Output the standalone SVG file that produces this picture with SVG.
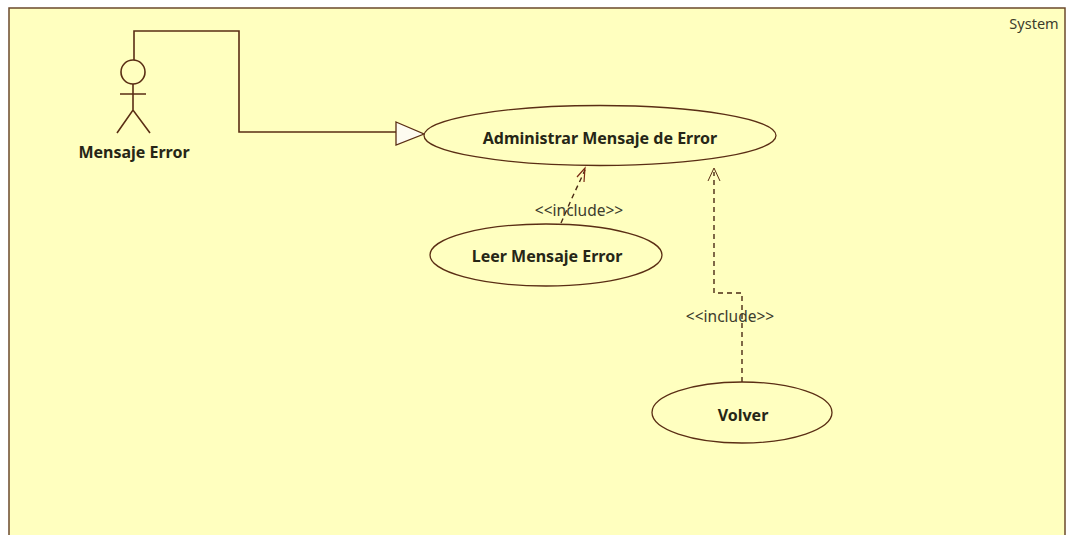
<svg xmlns="http://www.w3.org/2000/svg" width="1066" height="535" viewBox="0 0 1066 535">
<style>
.uc{fill:#ffffc0;stroke:#5a2e14;stroke-width:1.3}
.l{fill:none;stroke:#5a2e14;stroke-width:1.6}
.d{fill:none;stroke:#4a2a14;stroke-width:1.4;stroke-dasharray:5 4}
.b{font-family:"Noto Sans","Liberation Sans",sans-serif;font-weight:700;font-size:16px;fill:#262616;text-anchor:middle}
.t{font-family:"Noto Sans","Liberation Sans",sans-serif;font-size:15.5px;fill:#3c3c2c;text-anchor:middle}
</style>
<rect width="1066" height="535" fill="#ffffff"/>
<rect id="system" x="9" y="8" width="1056" height="540" fill="#ffffbf" stroke="#6b4a2c" stroke-width="1.5"/>
<text x="1034" y="29" class="t" style="font-size:14.5px">System</text>
<g id="connectors">
<path class="l" d="M134 60V31H239V132H396"/>
<path d="M396 122L424 134L396 145Z" fill="#fdfbf0" stroke="#5a2e14" stroke-width="1.3"/>
<path class="d" d="M561 223L572 198L585 170"/>
<path d="M577 177L585 168L584 182" fill="none" stroke="#7a2a14" stroke-width="1.2"/>
<path class="d" d="M742 382V293H714V172"/>
<path d="M708 181L714 168L720 181" fill="none" stroke="#5a2e14" stroke-width="1"/>
<text x="579" y="216" class="t">&lt;&lt;include&gt;&gt;</text>
<text x="730" y="322" class="t">&lt;&lt;include&gt;&gt;</text>
</g>
<g id="actor">
<circle cx="133" cy="72" r="12" fill="none" stroke="#5a2e14" stroke-width="1.6"/>
<path class="l" d="M133 84V110M120 94H146M117 133L133 110L150 133"/>
<text x="134" y="158" class="b">Mensaje Error</text>
</g>
<g id="uc-admin">
<ellipse class="uc" cx="600" cy="135.5" rx="176" ry="30"/>
<text x="600" y="144" class="b">Administrar Mensaje de Error</text>
</g>
<g id="uc-leer">
<ellipse class="uc" cx="546" cy="255" rx="116" ry="31"/>
<text x="547" y="262" class="b">Leer Mensaje Error</text>
</g>
<g id="uc-volver">
<ellipse class="uc" cx="742" cy="412.5" rx="90" ry="30.5"/>
<text x="743" y="421" class="b">Volver</text>
</g>
</svg>
